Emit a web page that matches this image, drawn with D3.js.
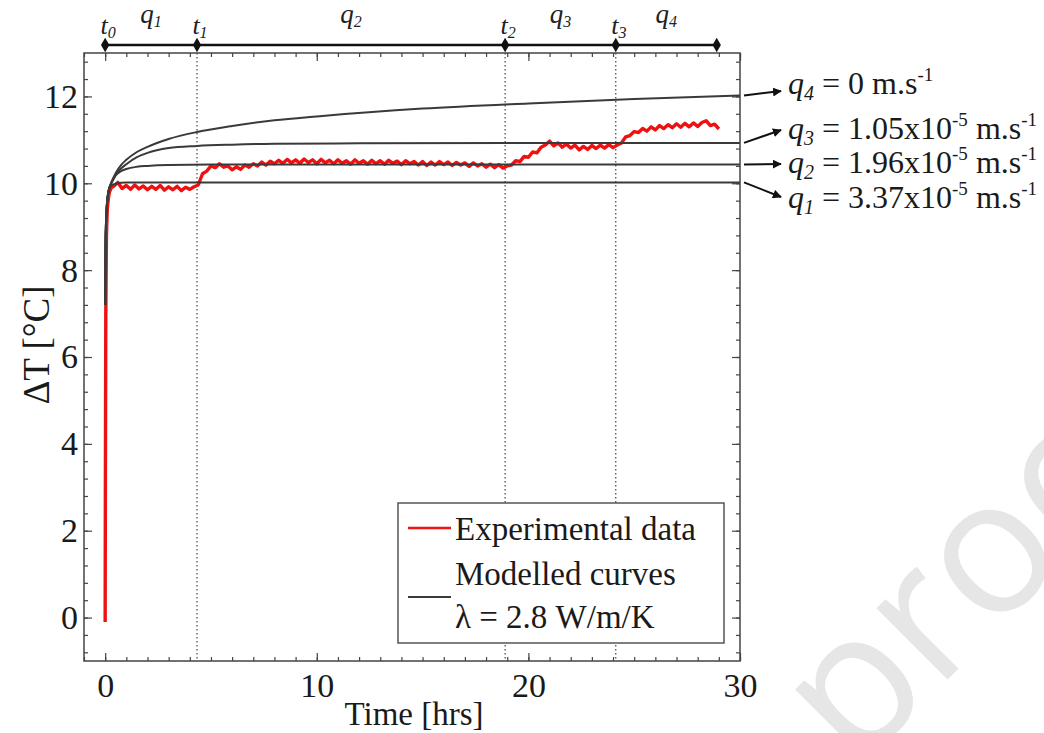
<!DOCTYPE html>
<html><head><meta charset="utf-8">
<script src="https://cdn.jsdelivr.net/npm/d3@7"></script>
<style>
body{margin:0;background:#fff;}
svg{display:block;font-family:"Liberation Serif","Times New Roman",serif;}
</style></head><body>
<svg id="chart" width="1044" height="733"></svg>
<script>
// ---------------- data ----------------
const xTicks = [0, 10, 20, 30];
const yTicks = [0, 2, 4, 6, 8, 10, 12];
const phaseTimes = [0, 4.34, 18.9, 24.13, 28.9];      // t0, t1, t2, t3, end
const phaseMarkIdx = ["0", "1", "2", "3"];
const flowIdx = ["1", "2", "3", "4"];
const flowMantissa = ["3.37", "1.96", "1.05", "0"];
const flowExponent = ["-5", "-5", "-5", null];

const modelQ1 = [[0.003,7.2],[0.015,8.4],[0.04,9.1],[0.08,9.5],[0.15,9.78],[0.2,9.88],[0.3,9.95],[0.5,9.99],[0.75,10.01],[1,10.02],[5,10.02],[15,10.02],[30,10.02]];
const modelQ2 = [[0.003,7.2],[0.015,8.4],[0.04,9.1],[0.08,9.5],[0.15,9.8],[0.2,9.9],[0.3,10.0],[0.5,10.18],[0.75,10.28],[1,10.33],[1.5,10.38],[2,10.4],[3,10.42],[5,10.43],[15,10.43],[30,10.43]];
const modelQ3 = [[0.003,7.2],[0.015,8.4],[0.04,9.1],[0.08,9.5],[0.15,9.8],[0.2,9.9],[0.3,10.02],[0.5,10.2],[0.75,10.34],[1,10.44],[1.5,10.6],[2,10.7],[3,10.81],[4.34,10.86],[6,10.89],[8,10.91],[12,10.92],[20,10.93],[30,10.93]];
const modelQ4 = [[0.003,7.2],[0.015,8.4],[0.04,9.1],[0.08,9.5],[0.15,9.8],[0.2,9.9],[0.3,10.03],[0.5,10.24],[0.75,10.42],[1,10.54],[1.5,10.72],[2,10.84],[3,11.02],[4.34,11.18],[6,11.32],[8,11.45],[10,11.54],[15,11.72],[20,11.84],[25,11.94],[30,12.02]];
const modelCurves = [modelQ1, modelQ2, modelQ3, modelQ4];

const experimental = [[0,-0.1],[0.01,3.0],[0.03,7.0],[0.06,8.8],[0.1,9.4],[0.15,9.65],[0.2,9.8],[0.3,9.9],
[0.4,9.93],[0.6,10.02],[0.8,9.88],[1.0,9.95],[1.2,9.86],[1.4,9.96],[1.6,9.87],[1.8,9.94],[2.0,9.85],[2.2,9.93],
[2.4,9.86],[2.6,9.95],[2.8,9.84],[3.0,9.92],[3.2,9.85],[3.4,9.93],[3.6,9.83],[3.8,9.91],[4.0,9.86],[4.2,9.92],
[4.4,9.96],[4.6,10.22],[4.8,10.28],[5.0,10.4],[5.2,10.36],[5.4,10.45],[5.6,10.37],[5.8,10.4],[6.0,10.31],[6.2,10.38],
[6.4,10.32],[6.6,10.42],[6.8,10.37],[7.0,10.45],[7.2,10.4],[7.4,10.49],[7.6,10.42],[7.8,10.51],[8.0,10.45],[8.2,10.53],
[8.4,10.46],[8.6,10.55],[8.8,10.47],[9.0,10.54],[9.2,10.46],[9.4,10.56],[9.6,10.48],[9.8,10.54],[10.0,10.45],[10.2,10.55],
[10.4,10.47],[10.6,10.53],[10.8,10.45],[11.0,10.54],[11.2,10.46],[11.4,10.52],[11.6,10.44],[11.8,10.54],[12.0,10.46],[12.2,10.52],
[12.4,10.44],[12.6,10.53],[12.8,10.45],[13.0,10.52],[13.2,10.44],[13.4,10.53],[13.6,10.46],[13.8,10.51],[14.0,10.43],[14.2,10.52],
[14.4,10.45],[14.6,10.5],[14.8,10.42],[15.0,10.5],[15.2,10.41],[15.4,10.49],[15.6,10.42],[15.8,10.5],[16.0,10.43],[16.2,10.49],
[16.4,10.41],[16.6,10.48],[16.8,10.42],[17.0,10.47],[17.2,10.39],[17.4,10.47],[17.6,10.4],[17.8,10.45],[18.0,10.37],[18.2,10.44],
[18.4,10.36],[18.6,10.43],[18.8,10.35],[19.0,10.4],[19.2,10.42],[19.4,10.52],[19.6,10.5],[19.8,10.62],[20.0,10.6],[20.2,10.72],
[20.4,10.7],[20.6,10.83],[20.8,10.88],[21.0,10.97],[21.2,10.86],[21.4,10.93],[21.6,10.83],[21.8,10.9],[22.0,10.81],[22.2,10.88],
[22.4,10.77],[22.6,10.85],[22.8,10.78],[23.0,10.87],[23.2,10.8],[23.4,10.88],[23.6,10.81],[23.8,10.89],[24.0,10.82],[24.2,10.88],
[24.4,10.93],[24.6,11.07],[24.8,11.1],[25.0,11.19],[25.2,11.17],[25.4,11.26],[25.6,11.2],[25.8,11.3],[26.0,11.23],[26.2,11.33],
[26.4,11.26],[26.6,11.35],[26.8,11.28],[27.0,11.37],[27.2,11.29],[27.4,11.38],[27.6,11.3],[27.8,11.39],[28.0,11.31],[28.2,11.4],
[28.4,11.44],[28.6,11.33],[28.8,11.36],[29.0,11.25]];

// ---------------- layout ----------------
const L = 84, R = 740, T = 53, B = 661;
const svg = d3.select("#chart");
const x = d3.scaleLinear().domain([-1, 30]).range([L, R]);
const y = d3.scaleLinear().domain([-1, 13]).range([B, T]);

// watermark
svg.append("text").attr("transform", "translate(855,772) rotate(-45)")
  .attr("font-family", "'Open Sans', sans-serif").attr("font-size", 188)
  .attr("fill", "#e6e6e6").text("proof");

svg.append("rect").attr("x", L).attr("y", T).attr("width", R - L).attr("height", B - T)
  .attr("fill", "#fff");

svg.append("defs").append("clipPath").attr("id", "clip")
  .append("rect").attr("x", L).attr("y", T).attr("width", R - L).attr("height", B - T);

// axes ticks
const axisColor = "#444";
function styleAxis(g, fs) {
  g.select(".domain").remove();
  g.selectAll(".tick line").attr("stroke", axisColor).attr("stroke-width", 1.2);
  g.selectAll(".tick text").attr("font-size", fs).attr("fill", "#1a1a1a")
    .attr("font-family", "'Liberation Serif', serif");
}
const xMinor = d3.range(-1, 31);
const yMinor = d3.range(-2, 33).map(i => +(i * 0.4).toFixed(2)).filter(v => v >= -1 && v <= 13);

svg.append("g").attr("transform", `translate(0,${B})`)
  .call(d3.axisBottom(x).tickValues(xMinor).tickSize(-4).tickFormat("")).call(g => styleAxis(g, 0));
svg.append("g").attr("transform", `translate(0,${B})`)
  .call(d3.axisBottom(x).tickValues(xTicks).tickSizeInner(-8).tickSizeOuter(0).tickPadding(12).tickFormat(d3.format("d")))
  .call(g => styleAxis(g, 34));
svg.append("g").attr("transform", `translate(0,${T})`)
  .call(d3.axisTop(x).tickValues(xMinor).tickSize(-4).tickFormat("")).call(g => styleAxis(g, 0));
svg.append("g").attr("transform", `translate(0,${T})`)
  .call(d3.axisTop(x).tickValues(xTicks).tickSize(-8).tickFormat("")).call(g => styleAxis(g, 0));

svg.append("g").attr("transform", `translate(${L},0)`)
  .call(d3.axisLeft(y).tickValues(yMinor).tickSize(-4).tickFormat("")).call(g => styleAxis(g, 0));
svg.append("g").attr("transform", `translate(${L},0)`)
  .call(d3.axisLeft(y).tickValues(yTicks).tickSizeInner(-8).tickSizeOuter(0).tickPadding(6).tickFormat(d3.format("d")))
  .call(g => styleAxis(g, 34));
svg.append("g").attr("transform", `translate(${R},0)`)
  .call(d3.axisRight(y).tickValues(yMinor).tickSize(-4).tickFormat("")).call(g => styleAxis(g, 0));
svg.append("g").attr("transform", `translate(${R},0)`)
  .call(d3.axisRight(y).tickValues(yTicks).tickSize(-8).tickFormat("")).call(g => styleAxis(g, 0));

// phase dotted lines
const plot = svg.append("g").attr("clip-path", "url(#clip)");
plot.selectAll("line.phase").data(phaseTimes.slice(1, 4)).join("line")
  .attr("x1", d => x(d)).attr("x2", d => x(d)).attr("y1", T).attr("y2", B)
  .attr("stroke", "#333").attr("stroke-width", 1.1).attr("stroke-dasharray", "1.5,2.5");

// experimental
const line = d3.line().x(d => x(d[0])).y(d => y(d[1]));
plot.append("path").datum(experimental).attr("d", line)
  .attr("fill", "none").attr("stroke", "#ee1111").attr("stroke-width", 3.4).attr("stroke-linejoin", "round");

// model curves
const mline = d3.line().x(d => x(d[0])).y(d => y(d[1])).curve(d3.curveMonotoneX);
plot.selectAll("path.model").data(modelCurves).join("path").attr("class", "model")
  .attr("d", mline).attr("fill", "none").attr("stroke", "#3a3a3a").attr("stroke-width", 2);

// frame
svg.append("rect").attr("x", L).attr("y", T).attr("width", R - L).attr("height", B - T)
  .attr("fill", "none").attr("stroke", axisColor).attr("stroke-width", 1.5);

// timeline on top
const tlY = 45;
svg.append("line").attr("x1", x(phaseTimes[0])).attr("x2", x(phaseTimes[4]))
  .attr("y1", tlY).attr("y2", tlY).attr("stroke", "#111").attr("stroke-width", 2.6);
svg.selectAll("path.dot").data(phaseTimes).join("path").attr("class", "dot")
  .attr("d", d3.symbol(d3.symbolDiamond, 60)).attr("transform", d => `translate(${x(d)},${tlY})`)
  .attr("fill", "#111");
const tLab = svg.selectAll("text.tl").data(phaseMarkIdx).join("text")
  .attr("x", (d, i) => x(phaseTimes[i]) + 3).attr("y", 34).attr("text-anchor", "middle")
  .attr("font-style", "italic").attr("font-size", 26).attr("fill", "#222");
tLab.append("tspan").text("t");
tLab.append("tspan").attr("font-size", 16).attr("dy", 4).text(d => d);
const qLab = svg.selectAll("text.ql").data(flowIdx).join("text")
  .attr("x", (d, i) => x((phaseTimes[i] + phaseTimes[i + 1]) / 2)).attr("y", 23).attr("text-anchor", "middle")
  .attr("font-style", "italic").attr("font-size", 27).attr("fill", "#222");
qLab.append("tspan").text("q");
qLab.append("tspan").attr("font-size", 16).attr("dy", 4).text(d => d);

// right annotations with arrows
const defs = svg.select("defs");
defs.append("marker").attr("id", "arr").attr("viewBox", "0 0 10 10").attr("refX", 9).attr("refY", 5)
  .attr("markerWidth", 4.5).attr("markerHeight", 4.5).attr("orient", "auto")
  .append("path").attr("d", "M0,0 L10,5 L0,10 z").attr("fill", "#111");
const annBaseline = [208, 173, 139, 94];
const annArrowEnd = [197, 164, 130, 91];
modelCurves.forEach((c, i) => {
  const endV = c[c.length - 1][1];
  svg.append("line").attr("x1", R + 4).attr("y1", y(endV)).attr("x2", 781).attr("y2", annArrowEnd[i])
    .attr("stroke", "#111").attr("stroke-width", 2).attr("marker-end", "url(#arr)");
  const t = svg.append("text").attr("x", 788).attr("y", annBaseline[i]).attr("font-size", 32).attr("fill", "#1a1a1a");
  t.append("tspan").attr("font-style", "italic").text("q");
  t.append("tspan").attr("font-style", "italic").attr("font-size", 20).attr("dy", 6).text(flowIdx[i]);
  t.append("tspan").attr("dy", -6).text(" = " + flowMantissa[i] + (flowExponent[i] ? "x10" : ""));
  if (flowExponent[i]) {
    t.append("tspan").attr("font-size", 19).attr("dy", -13).text(flowExponent[i]);
    t.append("tspan").attr("dy", 13).text(" m.s");
  } else {
    t.append("tspan").text(" m.s");
  }
  t.append("tspan").attr("font-size", 19).attr("dy", -13).text("-1");
});

// legend
const lg = svg.append("g");
lg.append("rect").attr("x", 398).attr("y", 503).attr("width", 326).attr("height", 140)
  .attr("fill", "#fff").attr("stroke", "#555").attr("stroke-width", 1.5);
lg.append("line").attr("x1", 408).attr("x2", 451).attr("y1", 528).attr("y2", 528)
  .attr("stroke", "#ee1111").attr("stroke-width", 2.5);
lg.append("line").attr("x1", 408).attr("x2", 451).attr("y1", 597).attr("y2", 597)
  .attr("stroke", "#3a3a3a").attr("stroke-width", 2);
lg.append("text").attr("x", 455).attr("y", 540).attr("font-size", 33).attr("fill", "#1a1a1a").text("Experimental data");
lg.append("text").attr("x", 455).attr("y", 585).attr("font-size", 33).attr("fill", "#1a1a1a").text("Modelled curves");
lg.append("text").attr("x", 455).attr("y", 628).attr("font-size", 33).attr("fill", "#1a1a1a").text("λ = 2.8 W/m/K");

// axis labels
svg.append("text").attr("x", 414).attr("y", 725).attr("text-anchor", "middle")
  .attr("font-size", 33).attr("fill", "#1a1a1a").text("Time [hrs]");
svg.append("text").attr("transform", "translate(49,345) rotate(-90)").attr("text-anchor", "middle")
  .attr("font-size", 37).attr("fill", "#1a1a1a").text("ΔT [°C]");
</script>
</body></html>
